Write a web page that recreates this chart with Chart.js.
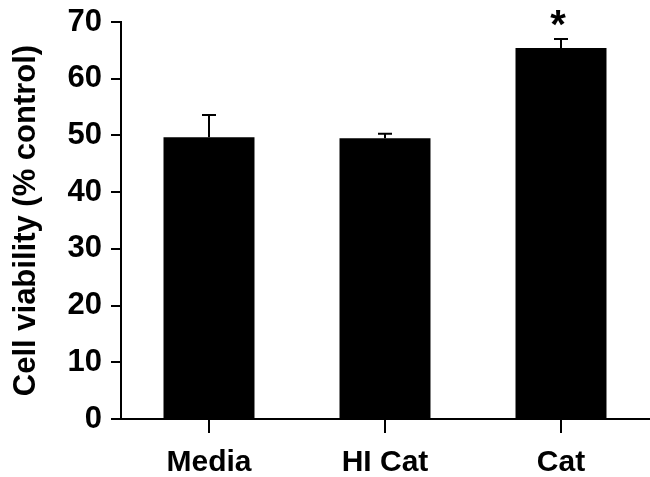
<!DOCTYPE html>
<html>
<head>
<meta charset="utf-8">
<script src="https://cdn.jsdelivr.net/npm/chart.js@4.4.1/dist/chart.umd.min.js"></script>
<style>
  html, body { margin: 0; padding: 0; background: #fff; }
  #wrap { width: 650px; height: 477px; }
</style>
</head>
<body>
<div id="wrap"><canvas id="viabilityChart" width="650" height="477"></canvas></div>
<script>
const categories = ["Media", "HI Cat", "Cat"];

const viability = [49.7, 49.5, 65.4];

const viabilityError = [3.9, 0.8, 1.6];

const significance = ["", "", "*"];

const yTicks = [0, 10, 20, 30, 40, 50, 60, 70];

const ctx = document.getElementById("viabilityChart").getContext("2d");

let viabilityChart;

// upper error bars and the significance star, drawn after the bars
const errorBarPlugin = {
  id: "errorBars",
  afterDatasetsDraw(chart) {
    const c = chart.ctx;
    const x = chart.scales.x;
    const y = chart.scales.y;
    c.save();
    c.strokeStyle = "#000";
    c.lineWidth = 2;
    viability.forEach((value, i) => {
      const px = x.getPixelForValue(i);
      const top = y.getPixelForValue(value + viabilityError[i]);
      const base = y.getPixelForValue(value);
      c.beginPath();
      c.moveTo(px, base);
      c.lineTo(px, top);
      c.moveTo(px - 7, top);
      c.lineTo(px + 7, top);
      c.stroke();
      if (significance[i]) {
        c.fillStyle = "#000";
        c.font = "bold 40px 'Liberation Sans', Arial, sans-serif";
        c.textAlign = "center";
        c.textBaseline = "middle";
        c.fillText(significance[i], px - 3, top - 12);
      }
    });
    c.restore();
  },
};

function initiateChart() {
  viabilityChart = new Chart(ctx, {
    type: "bar",
    data: {
      labels: categories,
      datasets: [
        {
          label: "Cell viability",
          data: viability,
          backgroundColor: "#000",
          borderWidth: 0,
          categoryPercentage: 1,
          barPercentage: 0.517,
        },
      ],
    },
    options: {
      responsive: false,
      animation: false,
      layout: {
        padding: { top: 22, right: 1, bottom: 0, left: 0 },
      },
      plugins: {
        legend: { display: false },
        tooltip: { enabled: false },
      },
      scales: {
        x: {
          grid: {
            offset: false,
            drawOnChartArea: false,
            drawTicks: true,
            tickLength: 14,
            color: "#000",
            lineWidth: 2,
          },
          border: { display: true, color: "#000", width: 2 },
          ticks: {
            color: "#000",
            padding: 12,
            font: { family: "'Liberation Sans', Arial, sans-serif", size: 30, weight: "bold" },
          },
          afterFit: (scale) => {
            scale.height = 58;
          },
        },
        y: {
          min: 0,
          max: 70,
          afterBuildTicks: (scale) => {
            scale.ticks = yTicks.map((v) => ({ value: v }));
          },
          grid: {
            drawOnChartArea: false,
            drawTicks: true,
            tickLength: 10,
            color: "#000",
            lineWidth: 2,
          },
          border: { display: true, color: "#000", width: 2 },
          ticks: {
            color: "#000",
            padding: 9,
            font: { family: "'Liberation Sans', Arial, sans-serif", size: 31, weight: "bold", lineHeight: 0.5 },
          },
          title: {
            display: true,
            text: "Cell viability (% control)",
            color: "#000",
            padding: { top: 8, bottom: 0 },
            font: { family: "'Liberation Sans', Arial, sans-serif", size: 31, weight: "bold" },
          },
          afterFit: (scale) => {
            scale.width = 121;
          },
        },
      },
    },
    plugins: [errorBarPlugin],
  });
}

window.addEventListener("load", (event) => {
  initiateChart();
});
</script>
</body>
</html>
